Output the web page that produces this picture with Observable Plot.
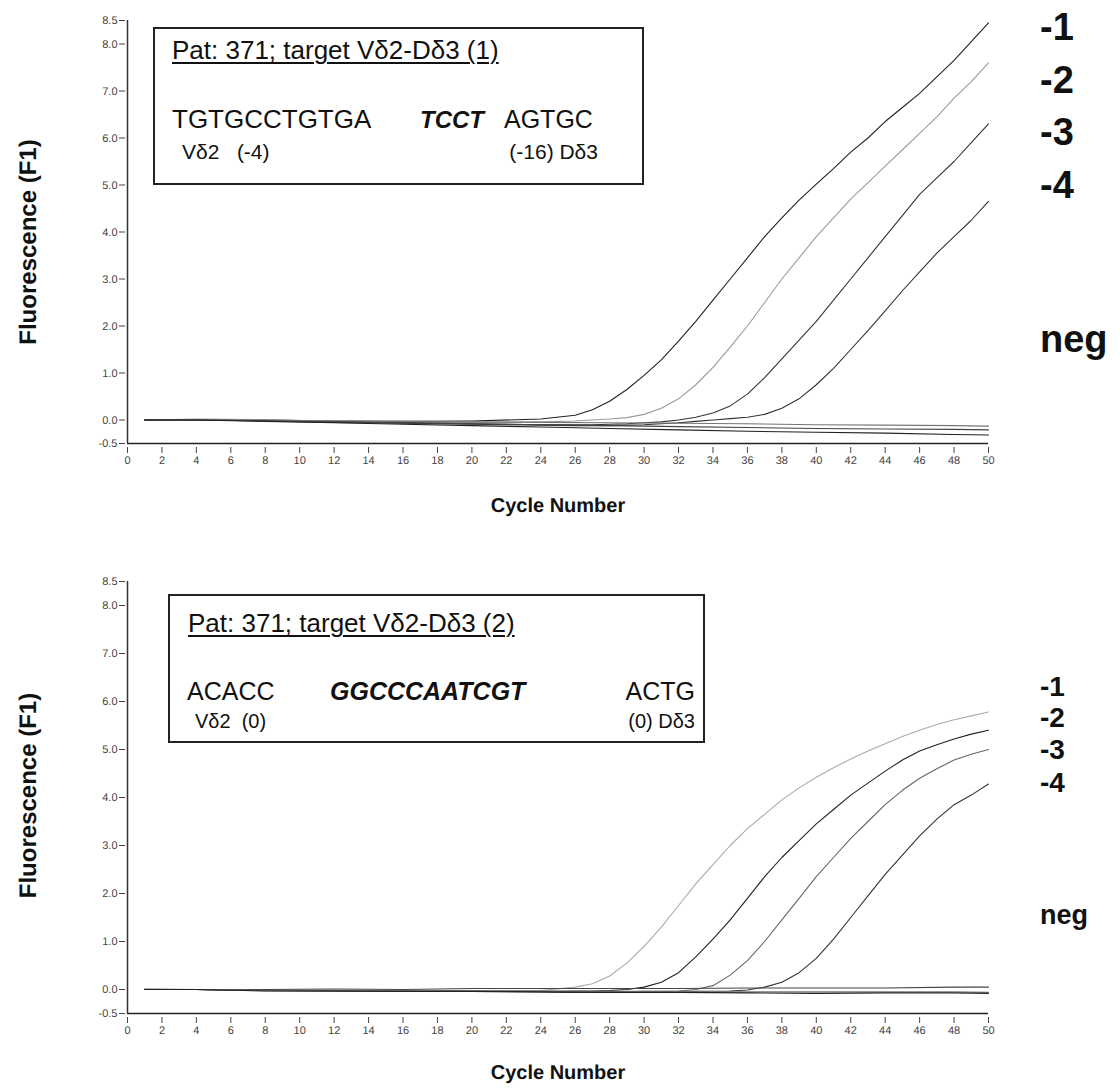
<!DOCTYPE html>
<html><head><meta charset="utf-8">
<script src="https://cdn.jsdelivr.net/npm/d3@7"></script>
<script src="https://cdn.jsdelivr.net/npm/@observablehq/plot@0.6"></script>
<style>
body{margin:0;background:#fff;font-family:"Liberation Sans",Arial,sans-serif;}
#wrap{position:relative;width:1120px;height:1089px;overflow:hidden;background:#fff;}
.panel{position:absolute;left:0;}
.panel text{text-rendering:geometricPrecision;}
.box{position:absolute;border:2px solid #222;box-sizing:border-box;}
.t{position:absolute;white-space:pre;color:#111;line-height:1;}
</style></head>
<body><div id="wrap"></div>
<script>
// ---------- data ----------
const xTicks = d3.range(0, 51, 2);
const yTicks = [-0.5, 0, 1, 2, 3, 4, 5, 6, 7, 8, 8.5];
const cycles = [1,4,8,12,16,20,24,26,27,28,29,30,31,32,33,34,35,36,37,38,39,40,41,42,43,44,45,46,47,48,49,50];
const negCycles = [1,4,8,12,16,20,24,28,32,36,40,44,48,50];

// Top panel: target Vδ2-Dδ3 (1)
const top1 = [0,0.01,0,-0.02,-0.03,-0.02,0.02,0.1,0.22,0.4,0.65,0.95,1.28,1.68,2.1,2.55,3.0,3.45,3.9,4.3,4.68,5.02,5.35,5.7,6.0,6.35,6.65,6.95,7.3,7.65,8.05,8.45];
const top2 = [0,0.02,0.01,-0.03,-0.05,-0.05,-0.04,-0.02,0,0.02,0.05,0.12,0.25,0.45,0.75,1.12,1.55,2.0,2.5,3.0,3.45,3.9,4.3,4.7,5.05,5.4,5.75,6.1,6.45,6.85,7.2,7.6];
const top3 = [0,0,-0.02,-0.04,-0.06,-0.08,-0.1,-0.1,-0.1,-0.09,-0.08,-0.06,-0.04,0,0.06,0.15,0.3,0.55,0.9,1.3,1.7,2.1,2.55,3.0,3.45,3.9,4.35,4.8,5.15,5.5,5.9,6.3];
const top4 = [0,0,-0.02,-0.05,-0.07,-0.09,-0.11,-0.12,-0.12,-0.12,-0.11,-0.1,-0.08,-0.06,-0.03,0,0.03,0.06,0.12,0.25,0.45,0.75,1.1,1.5,1.9,2.32,2.75,3.15,3.55,3.9,4.25,4.65];
const topNegA = [0,0.01,0,-0.02,-0.03,-0.04,-0.05,-0.06,-0.07,-0.08,-0.1,-0.11,-0.12,-0.13];
const topNegB = [0,0,-0.02,-0.04,-0.06,-0.08,-0.1,-0.12,-0.14,-0.16,-0.18,-0.19,-0.2,-0.21];
const topNegC = [0,0,-0.03,-0.06,-0.09,-0.12,-0.15,-0.18,-0.21,-0.24,-0.26,-0.28,-0.31,-0.32];

// Bottom panel: target Vδ2-Dδ3 (2)
const bot1 = [0.02,0,-0.03,-0.02,-0.03,-0.03,-0.02,0.05,0.12,0.28,0.55,0.9,1.3,1.75,2.2,2.6,3.0,3.35,3.65,3.95,4.2,4.42,4.62,4.8,4.97,5.12,5.27,5.4,5.52,5.62,5.7,5.78];
const bot2 = [0,0,-0.02,-0.03,-0.03,-0.03,-0.04,-0.03,-0.03,-0.02,0,0.05,0.15,0.35,0.68,1.05,1.45,1.9,2.35,2.75,3.1,3.45,3.75,4.05,4.3,4.55,4.78,4.97,5.1,5.22,5.32,5.4];
const bot3 = [0,0,-0.01,-0.02,-0.03,-0.03,-0.04,-0.05,-0.05,-0.05,-0.05,-0.04,-0.04,-0.03,0,0.08,0.3,0.6,1.0,1.45,1.9,2.35,2.75,3.15,3.5,3.85,4.15,4.4,4.6,4.78,4.9,5.0];
const bot4 = [0,0,-0.02,-0.03,-0.03,-0.04,-0.05,-0.06,-0.06,-0.06,-0.06,-0.06,-0.05,-0.05,-0.04,-0.04,-0.03,-0.01,0.05,0.15,0.35,0.65,1.05,1.5,1.95,2.4,2.8,3.2,3.55,3.85,4.05,4.28];
const botNegA = [0,0,0,0.01,0,0.02,0.02,0.02,0.02,0.03,0.03,0.03,0.05,0.05];
const botNegB = [0,0,-0.02,-0.01,-0.02,-0.02,-0.04,-0.04,-0.04,-0.05,-0.05,-0.05,-0.05,-0.06];
const botNegC = [0,0,-0.03,-0.03,-0.04,-0.04,-0.05,-0.06,-0.06,-0.07,-0.08,-0.07,-0.07,-0.08];

const topSeries = [
  {name: "-1", values: top1, xs: cycles, color: "#222"},
  {name: "-2", values: top2, xs: cycles, color: "#9a9a9a"},
  {name: "-3", values: top3, xs: cycles, color: "#333"},
  {name: "-4", values: top4, xs: cycles, color: "#333"},
  {name: "negA", values: topNegA, xs: negCycles, color: "#777"},
  {name: "negB", values: topNegB, xs: negCycles, color: "#444"},
  {name: "negC", values: topNegC, xs: negCycles, color: "#222"}
];
const botSeries = [
  {name: "-1", values: bot1, xs: cycles, color: "#aaa"},
  {name: "-2", values: bot2, xs: cycles, color: "#222"},
  {name: "-3", values: bot3, xs: cycles, color: "#666"},
  {name: "-4", values: bot4, xs: cycles, color: "#333"},
  {name: "negA", values: botNegA, xs: negCycles, color: "#444"},
  {name: "negB", values: botNegB, xs: negCycles, color: "#777"},
  {name: "negC", values: botNegC, xs: negCycles, color: "#222"}
];

// ---------- chart ----------
const FONT = "Liberation Sans, Arial, sans-serif";
function toRows(series) {
  return series.flatMap(s => s.values.map((v, i) => ({series: s.name, cycle: s.xs[i], f: v, color: s.color})));
}
function panel(series, opts) {
  const rows = toRows(series);
  return Plot.plot({
    width: 1120, height: opts.height,
    marginLeft: 127, marginRight: 132, marginTop: opts.mt, marginBottom: opts.mb,
    x: {domain: [0, 50]},
    y: {domain: [-0.5, 8.5]},
    style: {fontFamily: FONT, fontSize: "11px", color: "#444", background: "white"},
    marks: [
      Plot.axisX({ticks: xTicks, tickSize: 6, tickPadding: 3, dy: 4, label: null, tickFormat: d => String(d), fill: "#444"}),
      Plot.axisY({ticks: yTicks, tickSize: 6, tickPadding: 2, dx: -2, label: null, tickFormat: d => d.toFixed(1), fill: "#444"}),
      Plot.ruleX([0], {y1: -0.5, y2: 8.5, stroke: "#333", strokeWidth: 1.5}),
      Plot.ruleY([-0.5], {stroke: "#222", strokeWidth: 1.5}),
      Plot.line(rows, {x: "cycle", y: "f", z: "series", stroke: "color", strokeWidth: 1.1}),
      Plot.text(["Fluorescence (F1)"], {frameAnchor: "left", textAnchor: "middle", lineAnchor: "middle", rotate: -90, dx: -99, dy: opts.ylabDy, fontSize: 24, fontWeight: "bold", fill: "#111"}),
      Plot.text(["Cycle Number"], {frameAnchor: "bottom", lineAnchor: "middle", dy: opts.xlabDy, fontSize: 20, fontWeight: "bold", fill: "#111"})
    ]
  });
}

const wrap = document.getElementById("wrap");
const p1 = panel(topSeries, {height: 545, mt: 20, mb: 102, xlabDy: 62, ylabDy: 10});
p1.classList.add("panel"); p1.style.top = "0px";
wrap.appendChild(p1);
const p2 = panel(botSeries, {height: 529, mt: 21, mb: 76, xlabDy: 59, ylabDy: -2});
p2.classList.add("panel"); p2.style.top = "560px";
wrap.appendChild(p2);

// ---------- annotations ----------
function txt(s, x, base, size, o = {}) {
  const el = document.createElement("div");
  el.className = "t";
  el.textContent = s;
  el.style.fontSize = size + "px";
  el.style.left = x + "px";
  el.style.top = (base - 0.8465 * size) + "px";
  if (o.bold) el.style.fontWeight = "bold";
  if (o.italic) el.style.fontStyle = "italic";
  if (o.underline) { el.style.textDecoration = "underline"; el.style.textDecorationThickness = "2px"; el.style.textUnderlineOffset = "3px"; }
  if (o.right) el.style.transform = "translateX(-100%)";
  wrap.appendChild(el);
}
function box(x, y, w, h) {
  const el = document.createElement("div");
  el.className = "box";
  Object.assign(el.style, {left: x + "px", top: y + "px", width: w + "px", height: h + "px"});
  wrap.appendChild(el);
}

box(153, 27, 491, 158);
txt("Pat: 371; target V\u03B42-D\u03B43 (1)", 172, 59, 26, {underline: true});
txt("TGTGCCTGTGA", 172, 128, 26);
txt("TCCT", 420, 128, 24, {bold: true, italic: true});
txt("AGTGC", 504, 128, 25);
txt("V\u03B42   (-4)", 182, 159, 21);
txt("(-16) D\u03B43", 598, 159, 21, {right: true});

box(168, 594, 537, 149);
txt("Pat: 371; target V\u03B42-D\u03B43 (2)", 188, 632, 26, {underline: true});
txt("ACACC", 187, 700, 25);
txt("GGCCCAATCGT", 330, 700, 25, {bold: true, italic: true});
txt("ACTG", 695, 700, 25, {right: true});
txt("V\u03B42  (0)", 195, 728, 20);
txt("(0) D\u03B43", 695, 728, 20, {right: true});

const topLabels = [["-1", 40], ["-2", 93], ["-3", 145], ["-4", 198]];
topLabels.forEach(([s, b]) => txt(s, 1040, b, 38, {bold: true}));
txt("neg", 1040, 352, 38, {bold: true});
const botLabels = [["-1", 697], ["-2", 728], ["-3", 760], ["-4", 793]];
botLabels.forEach(([s, b]) => txt(s, 1040, b, 28, {bold: true}));
txt("neg", 1040, 925, 27, {bold: true});
</script>
</body></html>
